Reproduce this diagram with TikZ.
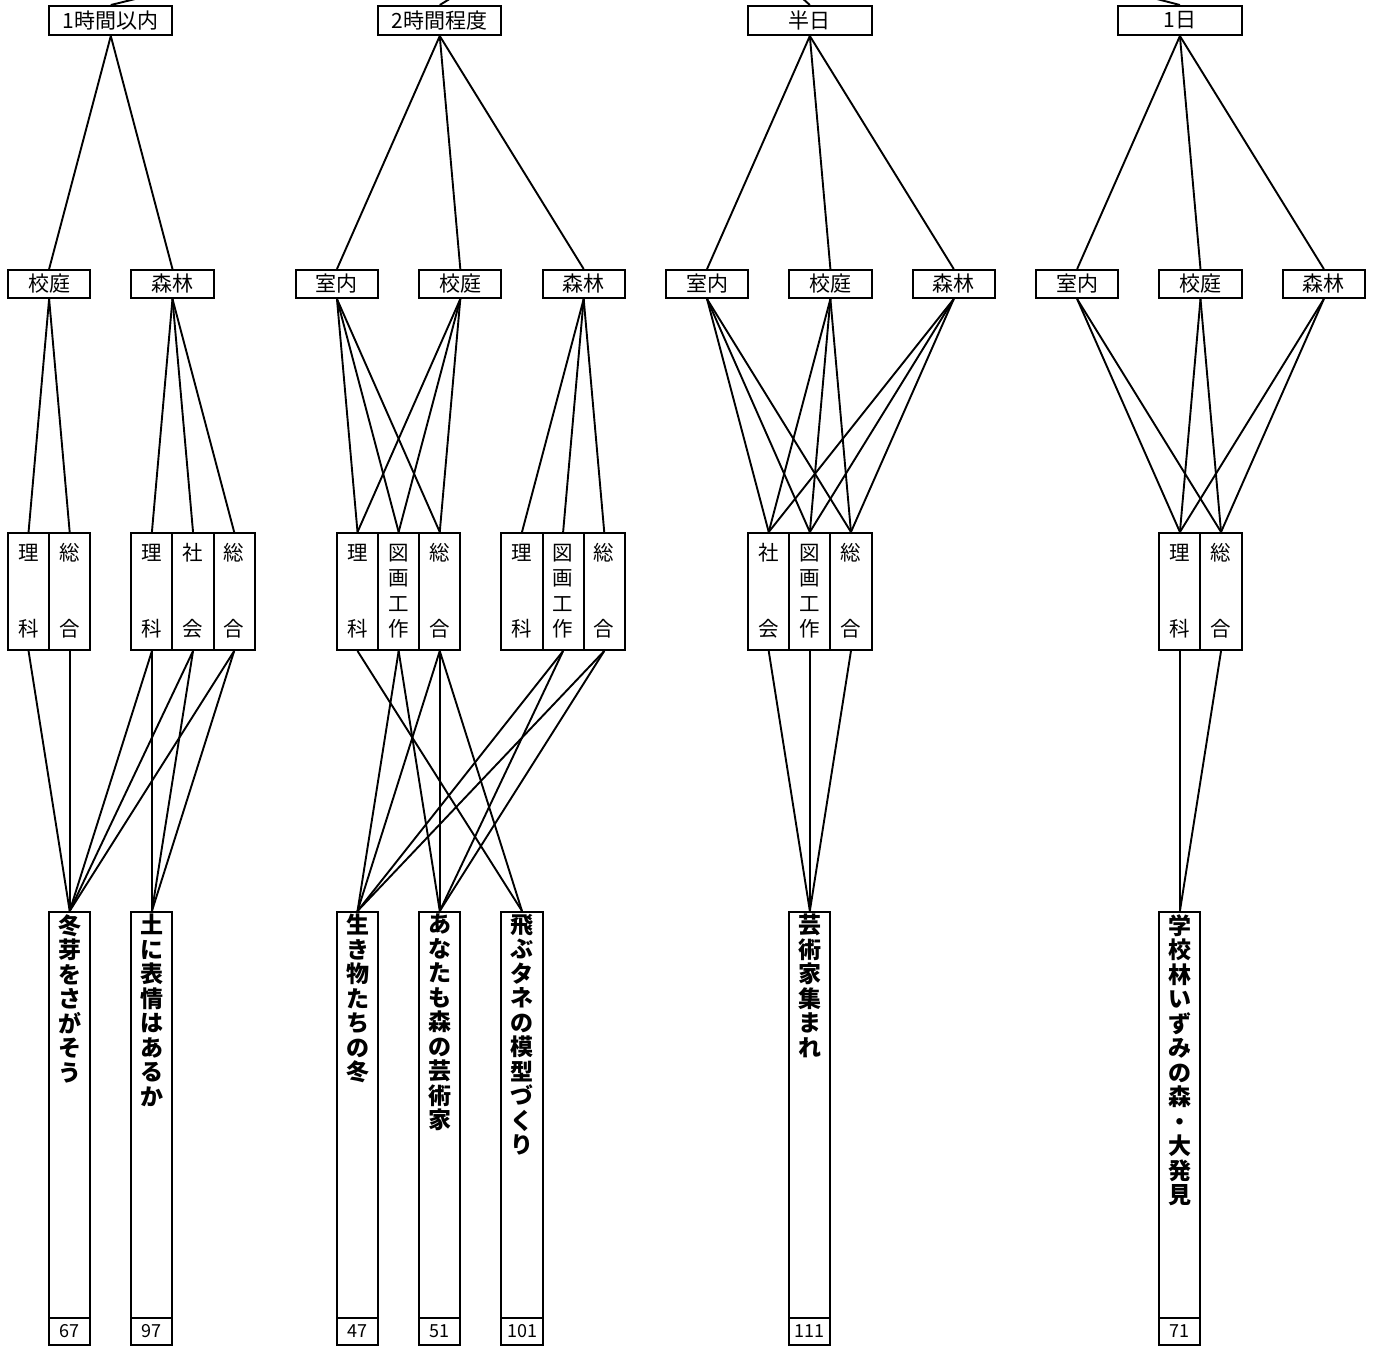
\documentclass[tikz,border=0pt]{standalone}
\usepackage{fontspec}
\setmainfont{Noto Sans CJK JP}
\tikzset{
  bx/.style={draw, line width=2pt, inner sep=0pt, fill=white},
  topbox/.style={bx, minimum width=123.36pt, minimum height=29pt, font=\fontsize{21}{24}\selectfont},
  placebox/.style={bx, minimum width=82.24pt, minimum height=28pt, font=\fontsize{21}{24}\selectfont},
  subjbox/.style={bx, minimum width=41.12pt, minimum height=117pt},
  actbox/.style={bx, minimum width=41.12pt, minimum height=406pt},
  numbox/.style={bx, minimum width=41.12pt, minimum height=27pt, font=\fontsize{18}{20}\selectfont},
  subjtxt/.style={inner sep=0pt, font=\fontsize{20.5}{22}\selectfont},
  acttxt/.style={inner sep=0pt, anchor=north, align=center, font=\bfseries\fontsize{23}{24.5}\selectfont},
  link/.style={line width=1.9pt}
}
\begin{document}
\begin{tikzpicture}[x=1pt,y=-1pt]
\clip (0,0) rectangle (1381,1347);
\fill[white] (0,0) rectangle (1381,1347);
\coordinate (root) at (660,-130);
% top level
\node[topbox] (t1) at (110.8,20.5) {1時間以内};
\node[topbox] (t2) at (439.76,20.5) {2時間程度};
\node[topbox] (t3) at (809.84,20.5) {半日};
\node[topbox] (t4) at (1179.92,20.5) {1日};
% places
\node[placebox] (pA1) at (49.12,284) {校庭};
\node[placebox] (pA2) at (172.48,284) {森林};
\node[placebox] (pC1) at (336.96,284) {室内};
\node[placebox] (pC2) at (460.32,284) {校庭};
\node[placebox] (pC3) at (583.68,284) {森林};
\node[placebox] (pE1) at (707.04,284) {室内};
\node[placebox] (pE2) at (830.4,284) {校庭};
\node[placebox] (pE3) at (953.76,284) {森林};
\node[placebox] (pF1) at (1077.12,284) {室内};
\node[placebox] (pF2) at (1200.48,284) {校庭};
\node[placebox] (pF3) at (1323.84,284) {森林};
% subject columns
\foreach \n/\x in {sA1/28.56, sA2/69.68, sB1/151.92, sB2/193.04, sB3/234.16,
                   sC1/357.52, sC2/398.64, sC3/439.76, sD1/522, sD2/563.12, sD3/604.24,
                   sE1/768.72, sE2/809.84, sE3/850.96, sF1/1179.92, sF2/1221.04}
  \node[subjbox] (\n) at (\x,591.5) {};
% two-character subject labels
\foreach \x/\a/\b in {28.56/理/科, 69.68/総/合, 151.92/理/科, 193.04/社/会, 234.16/総/合,
                      357.52/理/科, 439.76/総/合, 522/理/科, 604.24/総/合,
                      768.72/社/会, 850.96/総/合, 1179.92/理/科, 1221.04/総/合}
{
  \node[subjtxt] at (\x,553) {\a};
  \node[subjtxt] at (\x,629) {\b};
}
% four-character subject labels
\foreach \x in {398.64, 563.12, 809.84}
{
  \node[subjtxt] at (\x,553) {図};
  \node[subjtxt] at (\x,578.5) {画};
  \node[subjtxt] at (\x,604) {工};
  \node[subjtxt] at (\x,629) {作};
}
% activity boxes
\foreach \n/\x/\num in {a1/69.68/67, a2/151.92/97, a3/357.52/47, a4/439.76/51,
                        a5/522/101, a6/809.84/111, a7/1179.92/71}
{
  \node[actbox] (\n) at (\x,1115) {};
  \node[numbox] (\n n) at (\x,1331.5) {\num};
}
\node[acttxt] at (69.68,914) {冬\\芽\\を\\さ\\が\\そ\\う};
\node[acttxt] at (151.92,914) {土\\に\\表\\情\\は\\あ\\る\\か};
\node[acttxt] at (357.52,914) {生\\き\\物\\た\\ち\\の\\冬};
\node[acttxt] at (439.76,914) {あ\\な\\た\\も\\森\\の\\芸\\術\\家};
\node[acttxt] at (522,914) {飛\\ぶ\\タ\\ネ\\の\\模\\型\\づ\\く\\り};
\node[acttxt] at (809.84,914) {芸\\術\\家\\集\\ま\\れ};
\node[acttxt] at (1179.92,914) {学\\校\\林\\い\\ず\\み\\の\\森\\・\\大\\発\\見};
% connectors: to parent above
\foreach \t in {t1,t2,t3,t4} \draw[link] (\t.north) -- (root);
% top -> places
\foreach \a/\b in {t1/pA1, t1/pA2, t2/pC1, t2/pC2, t2/pC3, t3/pE1, t3/pE2, t3/pE3,
                   t4/pF1, t4/pF2, t4/pF3}
  \draw[link] (\a.south) -- (\b.north);
% places -> subjects
\foreach \a/\b in {pA1/sA1, pA1/sA2, pA2/sB1, pA2/sB2, pA2/sB3,
                   pC1/sC1, pC1/sC2, pC1/sC3, pC2/sC1, pC2/sC2, pC2/sC3,
                   pC3/sD1, pC3/sD2, pC3/sD3,
                   pE1/sE1, pE1/sE2, pE1/sE3, pE2/sE1, pE2/sE2, pE2/sE3, pE3/sE1, pE3/sE2, pE3/sE3,
                   pF1/sF1, pF1/sF2, pF2/sF1, pF2/sF2, pF3/sF1, pF3/sF2}
  \draw[link] (\a.south) -- (\b.north);
% subjects -> activities
\foreach \a/\b in {sA1/a1, sA2/a1, sB1/a1, sB1/a2, sB2/a1, sB2/a2, sB3/a1, sB3/a2,
                   sC1/a5, sC2/a3, sC2/a4, sC3/a3, sC3/a4, sC3/a5,
                   sD2/a3, sD2/a4, sD3/a3, sD3/a4,
                   sE1/a6, sE2/a6, sE3/a6, sF1/a7, sF2/a7}
  \draw[link] (\a.south) -- (\b.north);
\end{tikzpicture}
\end{document}
